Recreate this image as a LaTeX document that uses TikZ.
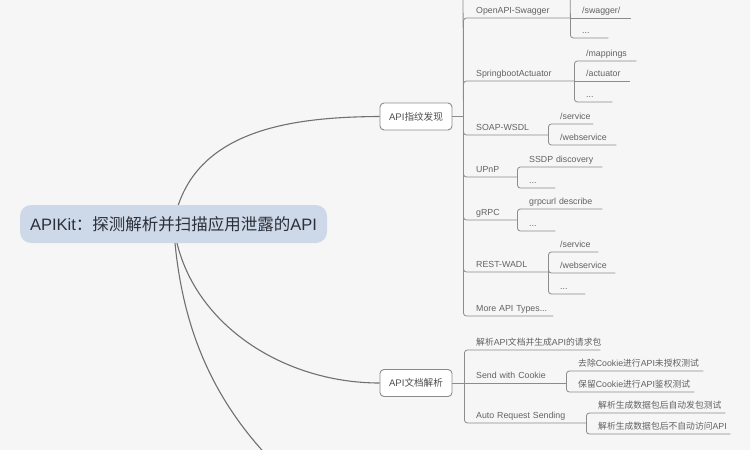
\documentclass[tikz,border=0pt]{standalone}
\usepackage{fontspec}
\setmainfont{Liberation Sans}
\newfontfamily\cjk{Noto Sans CJK SC}
\usepackage{tikz}
\usetikzlibrary{positioning,backgrounds,calc}
\usepackage{xcolor}
\definecolor{canvasbg}{RGB}{246,246,246}
\definecolor{rootfill}{RGB}{205,216,232}
\definecolor{roottext}{RGB}{44,47,56}
\definecolor{curvegray}{RGB}{112,112,112}
\definecolor{linegray}{RGB}{140,140,140}
\definecolor{leaftext}{RGB}{98,98,98}
\newcommand{\leafnode}[3]{%
  \node[leaf, text width=#3] (#1) at #2}

\begin{document}
\begin{tikzpicture}[x=1pt, y=-1pt,
  rootbox/.style={rectangle, fill=rootfill, rounded corners=11pt,
    minimum width=307pt, minimum height=38pt, inner sep=0pt,
    text=roottext, font=\fontsize{16.5}{19}\selectfont},
  branchbox/.style={rectangle, draw=linegray, fill=white, line width=0.9pt,
    rounded corners=4pt, minimum width=72pt, minimum height=27pt,
    inner sep=0pt, text=leaftext!80!black, font=\fontsize{9.6}{11}\selectfont},
  leaf/.style={anchor=south west, inner xsep=0pt, inner ysep=2pt,
    text height=6.8pt, text depth=2pt, align=left, text=leaftext,
    font=\fontsize{8.8}{10}\selectfont},
  curve/.style={draw=curvegray, line width=1.1pt},
  link/.style={draw=linegray, line width=0.8pt, rounded corners=3pt}]

\useasboundingbox (0,0) rectangle (750,450);

\node[rootbox] (APIKit) at (173.5,224) {APIKit{\cjk ：探测解析并扫描应用泄露的}API};
\node[branchbox] (Fingerprint) at (416,116.5) {API{\cjk 指纹发现}};
\node[branchbox] (DocParse) at (416,383) {API{\cjk 文档解析}};
\coordinate (NextBranch) at (315,500);

\leafnode{Swagger}{(476,18)}{94pt}{OpenAPI-Swagger};
\leafnode{Actuator}{(476,81)}{98pt}{SpringbootActuator};
\leafnode{SoapWsdl}{(476,135)}{72pt}{SOAP-WSDL};
\leafnode{UPnP}{(476,177)}{41pt}{UPnP};
\leafnode{GRPC}{(476,220)}{41pt}{gRPC};
\leafnode{RestWadl}{(476,272)}{72pt}{REST-WADL};
\leafnode{MoreTypes}{(476,316)}{77pt}{More API Types...};

\leafnode{SwaggerUI}{(582,18)}{49pt}{/swagger/};
\leafnode{SwaggerMore}{(582,38)}{26pt}{...};
\leafnode{Mappings}{(586,61)}{50pt}{/mappings};
\leafnode{ActuatorEP}{(586,81)}{44pt}{/actuator};
\leafnode{ActuatorMore}{(586,102)}{26pt}{...};
\leafnode{SoapService}{(560,124)}{33pt}{/service};
\leafnode{SoapWebservice}{(560,145)}{56pt}{/webservice};
\leafnode{SSDP}{(529,167)}{73pt}{SSDP discovery};
\leafnode{UPnPMore}{(529,188)}{26pt}{...};
\leafnode{Grpcurl}{(529,209)}{73pt}{grpcurl describe};
\leafnode{GRPCMore}{(529,231)}{26pt}{...};
\leafnode{RestService}{(560,252)}{38pt}{/service};
\leafnode{RestWebservice}{(560,273)}{55pt}{/webservice};
\leafnode{RestMore}{(560,294)}{25pt}{...};

\leafnode{ParseReq}{(476,350)}{124pt}{{\cjk 解析}API{\cjk 文档并生成}API{\cjk 的请求包}};
\leafnode{SendCookie}{(476,383)}{90pt}{Send with Cookie};
\leafnode{AutoSend}{(476,423)}{110pt}{Auto Request Sending};
\leafnode{NoCookie}{(578,371)}{125pt}{{\cjk 去除}Cookie{\cjk 进行}API{\cjk 未授权测试}};
\leafnode{KeepCookie}{(578,392)}{116pt}{{\cjk 保留}Cookie{\cjk 进行}API{\cjk 鉴权测试}};
\leafnode{AutoTest}{(598,413)}{127pt}{{\cjk 解析生成数据包后自动发包测试}};
\leafnode{NoAutoVisit}{(598,434)}{132pt}{{\cjk 解析生成数据包后不自动访问}API};

\begin{scope}[on background layer]
  \fill[canvasbg] (0,0) rectangle (750,450);
  \draw[curve] (APIKit.center) .. controls (190,130) and (290,117) .. (Fingerprint.west);
  \draw[curve] (APIKit.center) .. controls (185,320) and (280,383) .. (DocParse.west);
  \draw[curve] (APIKit.center) .. controls (180,330) and (215,420) .. (NextBranch);
\end{scope}

\coordinate (FpJoin) at ([xshift=11pt]Fingerprint.east);
\coordinate (FpUp) at (463,-15);
\coordinate (SwaggerUp) at (570,-15);
\coordinate (DocJoin) at ([xshift=12pt]DocParse.east);

\draw[link] (Fingerprint.east) -- (FpJoin);
\draw[link] (FpJoin) -- (FpUp);
\draw[link] (FpJoin) |- (Swagger.south east);
\draw[link] (FpJoin) |- (Actuator.south east);
\draw[link] (FpJoin) |- (SoapWsdl.south east);
\draw[link] (FpJoin) |- (UPnP.south east);
\draw[link] (FpJoin) |- (GRPC.south east);
\draw[link] (FpJoin) |- (RestWadl.south east);
\draw[link] (FpJoin) |- (MoreTypes.south east);

\draw[link] (Swagger.south east) -- (SwaggerUp);
\draw[link] (Swagger.south east) -- (SwaggerUI.south east);
\draw[link] (Swagger.south east) |- (SwaggerMore.south east);
\draw[link] (Actuator.south east) |- (Mappings.south east);
\draw[link] (Actuator.south east) -- (ActuatorEP.south east);
\draw[link] (Actuator.south east) |- (ActuatorMore.south east);
\draw[link] (SoapWsdl.south east) |- (SoapService.south east);
\draw[link] (SoapWsdl.south east) |- (SoapWebservice.south east);
\draw[link] (UPnP.south east) |- (SSDP.south east);
\draw[link] (UPnP.south east) |- (UPnPMore.south east);
\draw[link] (GRPC.south east) |- (Grpcurl.south east);
\draw[link] (GRPC.south east) |- (GRPCMore.south east);
\draw[link] (RestWadl.south east) |- (RestService.south east);
\draw[link] (RestWadl.south east) |- (RestWebservice.south east);
\draw[link] (RestWadl.south east) |- (RestMore.south east);

\draw[link] (DocParse.east) -- (DocJoin);
\draw[link] (DocJoin) |- (ParseReq.south east);
\draw[link] (DocJoin) -- (SendCookie.south east);
\draw[link] (DocJoin) |- (AutoSend.south east);
\draw[link] (SendCookie.south east) |- (NoCookie.south east);
\draw[link] (SendCookie.south east) |- (KeepCookie.south east);
\draw[link] (AutoSend.south east) |- (AutoTest.south east);
\draw[link] (AutoSend.south east) |- (NoAutoVisit.south east);

\end{tikzpicture}
\end{document}
